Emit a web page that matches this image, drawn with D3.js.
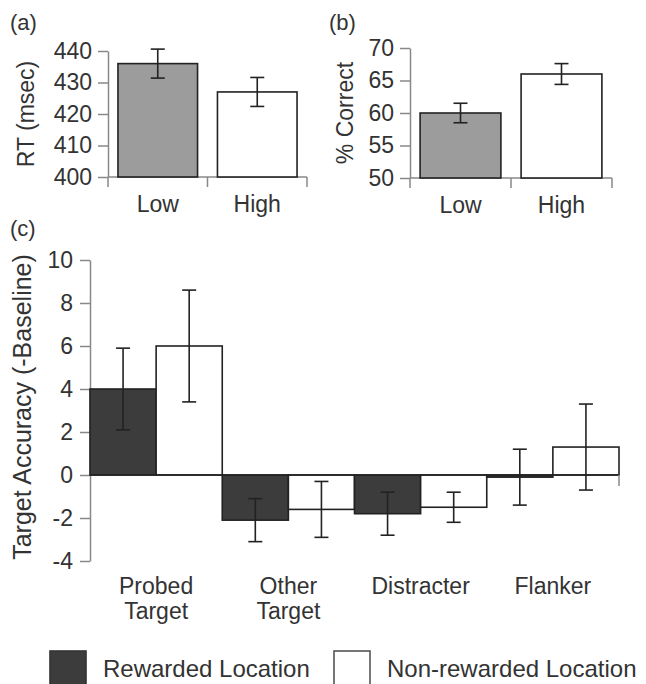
<!DOCTYPE html>
<html><head><meta charset="utf-8">
<script src="https://cdn.jsdelivr.net/npm/d3@7"></script>
<style>
body{margin:0;background:#fff;}
text{font-family:"Liberation Sans",Arial,sans-serif;fill:#333;}
</style></head>
<body>
<svg id="chart" width="646" height="684"></svg>
<script>
// Panel (a): reaction time
const rtConditions = ["Low", "High"];
const rtMeans = [436, 427];
const rtErrors = [4.6, 4.6];
const rtTicks = [400, 410, 420, 430, 440];
// Panel (b): percent correct
const pcConditions = ["Low", "High"];
const pcMeans = [60, 66];
const pcErrors = [1.5, 1.6];
const pcTicks = [50, 55, 60, 65, 70];
// Panel (c): target accuracy minus baseline
const categories = ["Probed Target", "Other Target", "Distracter", "Flanker"];
const seriesNames = ["Rewarded Location", "Non-rewarded Location"];
const rewardedMeans = [4.0, -2.1, -1.8, -0.1];
const rewardedErrors = [1.9, 1.0, 1.0, 1.3];
const nonRewardedMeans = [6.0, -1.6, -1.5, 1.3];
const nonRewardedErrors = [2.6, 1.3, 0.7, 2.0];
const accTicks = [-4, -2, 0, 2, 4, 6, 8, 10];

const svg = d3.select("#chart");
const FS = 23;
const axisColor = "#888";
const barStroke = "#222";
const lowFill = "#9c9c9c";
const rewFill = "#3c3c3c";
const fmt = d => String(d); // plain hyphen minus, as in the figure

function styleAxis(g) {
  g.selectAll("path.domain").attr("stroke", axisColor).attr("stroke-width", 1.5);
  g.selectAll(".tick line").attr("stroke", axisColor).attr("stroke-width", 1.5);
  g.selectAll(".tick text").attr("font-size", FS).attr("fill", "#333")
    .attr("font-family", "'Liberation Sans', Arial, sans-serif");
}

function errorBar(g, x, yTop, yBot, cap) {
  g.append("line").attr("x1", x).attr("x2", x).attr("y1", yTop).attr("y2", yBot)
    .attr("stroke", barStroke).attr("stroke-width", 1.6);
  [yTop, yBot].forEach(yy => g.append("line").attr("x1", x - cap / 2).attr("x2", x + cap / 2)
    .attr("y1", yy).attr("y2", yy).attr("stroke", barStroke).attr("stroke-width", 1.6));
}

function smallPanel(conds, means, errs, ticks, xr, yr, label, panelLetter, letterX, ylabelX) {
  const x = d3.scaleBand().domain(conds).range(xr).paddingInner(0.2).paddingOuter(0.1);
  const y = d3.scaleLinear().domain([ticks[0], ticks[ticks.length - 1]]).range(yr);
  const g = svg.append("g");
  const edges = [xr[0]].concat(conds.map(c => x(c) + x.bandwidth() + x.step() * x.paddingInner() / 2));
  edges[edges.length - 1] = xr[1];
  g.append("line").attr("x1", xr[0]).attr("x2", xr[1]).attr("y1", yr[0]).attr("y2", yr[0])
    .attr("stroke", axisColor).attr("stroke-width", 1.5);
  edges.forEach(e => g.append("line").attr("x1", e).attr("x2", e).attr("y1", yr[0]).attr("y2", yr[0] + 10)
    .attr("stroke", axisColor).attr("stroke-width", 1.5));
  const ya = g.append("g").attr("transform", `translate(${xr[0]},0)`)
    .call(d3.axisLeft(y).tickValues(ticks).tickFormat(fmt).tickSize(10).tickPadding(6).tickSizeOuter(0));
  styleAxis(ya);
  g.selectAll("rect.bar").data(conds).join("rect").attr("class", "bar")
    .attr("x", d => x(d)).attr("width", x.bandwidth())
    .attr("y", (d, i) => y(means[i])).attr("height", (d, i) => y(ticks[0]) - y(means[i]))
    .attr("fill", (d, i) => i === 0 ? lowFill : "#fff")
    .attr("stroke", barStroke).attr("stroke-width", 1.6);
  conds.forEach((c, i) => errorBar(g, x(c) + x.bandwidth() / 2, y(means[i] + errs[i]), y(means[i] - errs[i]), 14));
  conds.forEach(c => g.append("text").attr("x", x(c) + x.bandwidth() / 2).attr("y", yr[0] + 35)
    .attr("text-anchor", "middle").attr("font-size", FS).text(c));
  g.append("text").attr("transform", `translate(${ylabelX},${(yr[0] + yr[1]) / 2}) rotate(-90)`)
    .attr("text-anchor", "middle").attr("font-size", FS).text(label);
  svg.append("text").attr("x", letterX).attr("y", 30).attr("font-size", 22).text(panelLetter);
}

smallPanel(rtConditions, rtMeans, rtErrors, rtTicks, [108, 307], [177, 51], "RT (msec)", "(a)", 10, 34);
smallPanel(pcConditions, pcMeans, pcErrors, pcTicks, [410, 612], [178, 48], "% Correct", "(b)", 329, 353);

// Panel (c)
const gc = svg.append("g");
const x0 = d3.scaleBand().domain(categories).range([90, 619]).padding(0);
const x1 = d3.scaleBand().domain(seriesNames).range([0, x0.bandwidth()]).padding(0);
const yc = d3.scaleLinear().domain([-4, 10]).range([561, 260]);
const meansBy = [rewardedMeans, nonRewardedMeans];
const errsBy = [rewardedErrors, nonRewardedErrors];
const fills = [rewFill, "#fff"];

const yaxC = gc.append("g").attr("transform", "translate(90,0)")
  .call(d3.axisLeft(yc).tickValues(accTicks).tickFormat(fmt).tickSize(10).tickPadding(7).tickSizeOuter(0));
styleAxis(yaxC);

categories.forEach((cat, ci) => {
  seriesNames.forEach((s, si) => {
    const v = meansBy[si][ci];
    gc.append("rect").attr("x", x0(cat) + x1(s)).attr("width", x1.bandwidth())
      .attr("y", yc(Math.max(0, v))).attr("height", Math.abs(yc(v) - yc(0)))
      .attr("fill", fills[si]).attr("stroke", barStroke).attr("stroke-width", 1.6);
  });
});
gc.append("line").attr("x1", 90).attr("x2", 619).attr("y1", yc(0)).attr("y2", yc(0))
  .attr("stroke", barStroke).attr("stroke-width", 1.6);
gc.append("line").attr("x1", 619).attr("x2", 619).attr("y1", yc(0)).attr("y2", yc(0) + 11)
  .attr("stroke", axisColor).attr("stroke-width", 1.5);
categories.forEach((cat, ci) => {
  seriesNames.forEach((s, si) => {
    const v = meansBy[si][ci], e = errsBy[si][ci];
    errorBar(gc, x0(cat) + x1(s) + x1.bandwidth() / 2, yc(v + e), yc(v - e), 14);
  });
});
categories.forEach(cat => {
  const lines = cat.split(" ");
  const t = gc.append("text").attr("text-anchor", "middle").attr("font-size", FS)
    .attr("x", x0(cat) + x0.bandwidth() / 2).attr("y", 594);
  lines.forEach((ln, i) => t.append("tspan").attr("x", x0(cat) + x0.bandwidth() / 2)
    .attr("dy", i === 0 ? 0 : 25).text(ln));
});
gc.append("text").attr("transform", "translate(31,407) rotate(-90)")
  .attr("text-anchor", "middle").attr("font-size", 25).text("Target Accuracy (-Baseline)");
svg.append("text").attr("x", 10).attr("y", 236).attr("font-size", 22).text("(c)");

// Legend
const legX = [50, 334];
seriesNames.forEach((s, i) => {
  svg.append("rect").attr("x", legX[i]).attr("y", 651).attr("width", 36).attr("height", 40)
    .attr("fill", fills[i]).attr("stroke", i === 0 ? "#333" : "#555").attr("stroke-width", 1.6);
  svg.append("text").attr("x", legX[i] + 53).attr("y", 677).attr("font-size", 24).text(s);
});
</script>
</body></html>
